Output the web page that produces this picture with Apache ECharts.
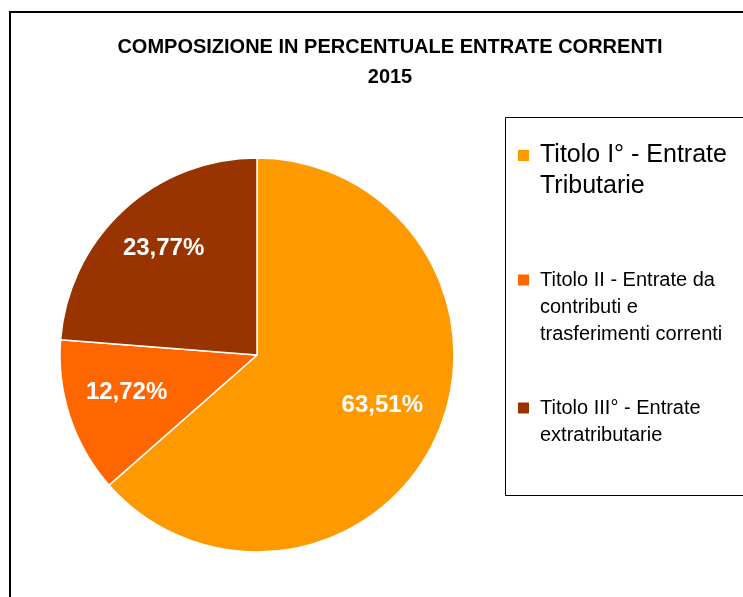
<!DOCTYPE html>
<html>
<head>
<meta charset="utf-8">
<script src="https://cdn.jsdelivr.net/npm/echarts@6/dist/echarts.min.js"></script>
<style>
    html, body { margin: 0; padding: 0; background: #fff; }
    #chartBody { width: 743px; height: 597px; }
</style>
</head>
<body>
<div id="chartBody"></div>
<script>
// dati
var categorie = [
    'Titolo I° - Entrate Tributarie',
    'Titolo II - Entrate da contributi e trasferimenti correnti',
    'Titolo III° - Entrate extratributarie'
]
var percentuali = [63.51, 12.72, 23.77]
var colori = ['#FF9900', '#FF6600', '#993300']
var righeLegenda = [
    ['Titolo I° - Entrate', 'Tributarie'],
    ['Titolo II - Entrate da', 'contributi e', 'trasferimenti correnti'],
    ['Titolo III° - Entrate', 'extratributarie']
]

var font = '"Liberation Sans", Arial, sans-serif'
var cx = 257, cy = 355, r = 197

var pieData = categorie.map(function (c, i) {
    return { name: c, value: percentuali[i], itemStyle: { color: colori[i] } }
})

// una legenda per voce, cosi' si possono posizionare come nell'originale
// (righe vuote davanti: il quadratino resta allineato alla prima riga)
var legSpec = [
    { top: 109, size: 25, lh: 31 },
    { top: 212.5, size: 20, lh: 27 },
    { top: 367.5, size: 20, lh: 27 }
]
var legends = categorie.map(function (c, i) {
    var s = legSpec[i]
    var righe = righeLegenda[i]
    var vuote = []
    for (var k = 1; k < righe.length; k++) vuote.push(' ')
    return {
        left: 516,
        top: s.top,
        padding: 0,
        orient: 'vertical',
        itemWidth: 13,
        itemHeight: 13,
        icon: 'rect',
        selectedMode: false,
        data: [c],
        formatter: function () { return vuote.concat(righe).join('\n') },
        textStyle: {
            fontFamily: font,
            fontSize: s.size,
            lineHeight: s.lh,
            color: '#000',
            padding: [0, 0, 0, 5]
        }
    }
})

var chart = echarts.init(document.getElementById('chartBody'), null, { renderer: 'canvas' })
chart.setOption({
    animation: false,
    backgroundColor: '#fff',
    title: {
        text: 'COMPOSIZIONE IN PERCENTUALE ENTRATE CORRENTI\n2015',
        left: 385,
        top: 27,
        textAlign: 'center',
        textStyle: {
            fontFamily: font,
            fontSize: 20,
            fontWeight: 'bold',
            lineHeight: 30,
            color: '#000'
        }
    },
    legend: legends,
    graphic: [
        {
            type: 'rect',
            shape: { x: 10, y: 12, width: 760, height: 600 },
            style: { fill: 'none', stroke: '#000', lineWidth: 2 },
            silent: true
        },
        {
            type: 'rect',
            shape: { x: 505.5, y: 117.5, width: 260, height: 378 },
            style: { fill: 'none', stroke: '#000', lineWidth: 1 },
            silent: true
        }
    ],
    series: [
        {
            type: 'pie',
            center: [cx, cy],
            radius: [0, r],
            startAngle: 90,
            clockwise: true,
            silent: true,
            data: pieData,
            label: { show: false },
            labelLine: { show: false },
            itemStyle: { borderColor: '#fff', borderWidth: 1.5 }
        },
        {
            // anello trasparente solo per mettere le etichette a ~0.68 del raggio
            type: 'pie',
            center: [cx, cy],
            radius: [72, r],
            startAngle: 90,
            clockwise: true,
            silent: true,
            data: categorie.map(function (c, i) {
                return { name: c, value: percentuali[i] }
            }),
            itemStyle: { color: 'rgba(0,0,0,0)' },
            labelLine: { show: false },
            labelLayout: { dy: -6 },
            label: {
                show: true,
                position: 'inside',
                color: '#fff',
                fontFamily: font,
                fontSize: 24,
                fontWeight: 'bold',
                formatter: function (p) {
                    return p.value.toFixed(2).replace('.', ',') + '%'
                }
            }
        }
    ]
})
</script>
</body>
</html>
